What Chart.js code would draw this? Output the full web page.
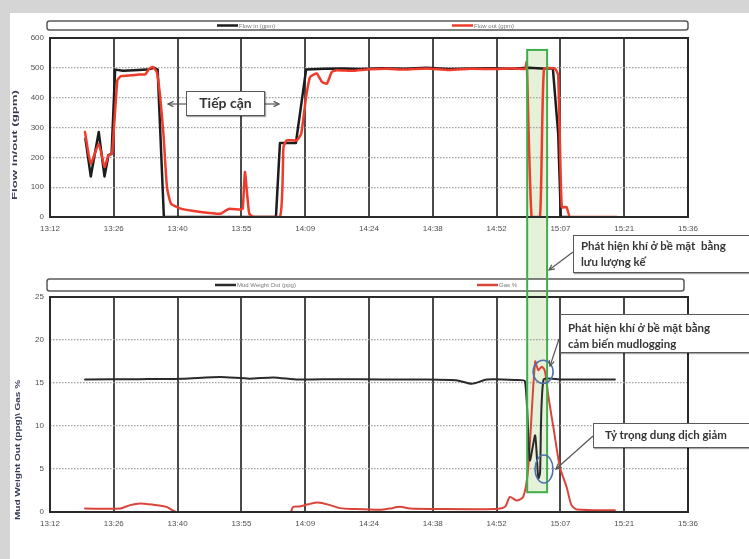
<!DOCTYPE html>
<html><head><meta charset="utf-8">
<script src="https://cdn.jsdelivr.net/npm/chart.js@4/dist/chart.umd.min.js"></script>
<style>
html,body{margin:0;padding:0;background:#fff;}
body{width:749px;height:559px;position:relative;overflow:hidden;font-family:"Liberation Sans",Arial,sans-serif;}
.frame{position:absolute;background:#d5d5d5;}
canvas{position:absolute;left:0;}
#under{top:0;z-index:1;}
#c1{top:0;z-index:2;}
#c2{top:240px;z-index:2;}
#over{top:0;z-index:3;pointer-events:none;}
.note{position:absolute;z-index:4;background:#fff;border:1.5px solid #5a5a5a;box-sizing:border-box;
  font-family:Lato,"Open Sans",sans-serif;font-weight:bold;color:#353535;white-space:pre;
  box-shadow:1px 1px 1px rgba(0,0,0,0.35);}
</style></head>
<body>
<div class="frame" style="left:0;top:0;width:10px;height:559px;"></div>
<div class="frame" style="left:0;top:0;width:749px;height:13px;"></div>
<canvas id="under" width="749" height="559"></canvas>
<canvas id="c1" width="749" height="240"></canvas>
<canvas id="c2" width="749" height="319"></canvas>
<canvas id="over" width="749" height="559"></canvas>

<div class="note" style="left:186px;top:91px;width:79px;height:25px;font-size:14px;line-height:22px;text-align:center;">Tiếp cận</div>
<div class="note" style="left:573px;top:235px;width:200px;height:38px;font-size:11.5px;line-height:16px;padding:2px 0 0 7px;">Phát hiện khí ở bề mặt  bằng
lưu lượng kế</div>
<div class="note" style="left:560px;top:314px;width:210px;height:39px;font-size:11.5px;line-height:16px;padding:5px 0 0 7px;">Phát hiện khí ở bề mặt bằng
cảm biến mudlogging</div>
<div class="note" style="left:593px;top:423px;width:180px;height:25px;font-size:11.5px;line-height:21px;padding:0 0 0 11px;">Tỷ trọng dung dịch giảm</div>

<script>
// ---- tick labels (x axis: minutes after 13:12, one label every 14.4 min) ----
const timeLabels = ['13:12','13:26','13:40','13:55','14:09','14:24','14:38','14:52','15:07','15:21','15:36'];
const TIME_STEP = 14.4;
const flowTicks = [0,100,200,300,400,500,600];
const lowerTicks = [0,5,10,15,20,25];

// ---- upper chart: Flow in / Flow out (gpm) ----
const flowInTime = [8.0, 9.2, 11.0, 12.3, 13.2, 13.9, 14.7, 16.5, 19, 22, 23.5, 24.3, 25.7, 51.0, 51.9, 55.5, 57.8, 62, 66, 70, 75, 80, 85, 90, 95, 100, 104, 108, 111, 113.5, 114.7, 115.3, 117.2];
const flowIn     = [262, 136, 285, 136, 207, 212, 494, 490, 492, 494, 500, 494, 0, 0, 248, 248, 494, 497, 498, 496, 499, 497, 500, 496, 498, 499, 497, 500, 498, 498, 279, 0, 0];

const flowOutTime = [7.9, 9.2, 11.0, 12.3, 13.2, 14.0, 15.2, 16.0, 18.5, 20, 21.5, 22.4, 23.2, 24.1, 24.8, 25.6, 26.4, 27.3, 29.5, 34, 38.5, 39.5, 40.5, 42.9, 43.5, 44.0, 44.6, 45.0, 46, 51.9, 52.7, 53.4, 55.7, 56.7, 57.8, 58.7, 60.2, 61.4, 62.5, 63.6, 64.7, 68, 72, 76, 80, 85, 90, 95, 100, 104, 107.2, 107.6, 108.7, 110.6, 111.5, 114.0, 114.7, 115.5, 116.6, 117.4, 127.9];
const flowOut     = [285, 179, 246, 168, 207, 212, 458, 472, 475, 478, 478, 497, 503, 486, 413, 279, 100, 45, 28, 17, 11, 20, 28, 25, 28, 151, 60, 10, 0, 0, 235, 257, 257, 279, 402, 469, 481, 453, 447, 486, 492, 490, 495, 497, 494, 498, 493, 497, 496, 498, 497, 520, 0, 0, 497, 497, 475, 33, 33, 0, 0];

// ---- lower chart: Mud Weight Out (ppg) / Gas % ----
const mudTime   = [7.9, 20, 30, 38.4, 45, 50.4, 56, 65, 75, 85, 92, 95.2, 98.6, 105, 107.2, 108.3, 109.5, 110.2, 110.6, 111.4, 115, 127.5];
const mudWeight = [15.4, 15.45, 15.5, 15.7, 15.5, 15.65, 15.4, 15.45, 15.4, 15.4, 15.3, 14.9, 15.4, 15.35, 15.2, 6.0, 8.9, 3.9, 4.5, 15.4, 15.4, 15.4];

const gasTime = [7.9, 15.8, 18.1, 20.3, 23.3, 26.3, 28.6, 54.2, 54.9, 56.4, 58.3, 60.5, 63.2, 65.5, 68.4, 74.5, 76.7, 79, 81.3, 86.2, 100.5, 102.7, 103.8, 105.3, 106.8, 107.9, 109.5, 110.2, 111.0, 111.7, 112.5, 113.6, 115.1, 116.6, 117.7, 118.9, 127.5];
const gasPct  = [0.4, 0.4, 0.8, 1.0, 0.85, 0.6, 0, 0, 0.6, 0.65, 0.9, 1.1, 0.8, 0.45, 0.35, 0.25, 0.4, 0.6, 0.4, 0.35, 0.35, 0.6, 1.75, 1.35, 1.75, 4.9, 17.5, 16.5, 16.9, 16.4, 13.4, 9.9, 5.2, 2.9, 0.8, 0.3, 0.2];

function pts(t, v){ return t.map((x,i)=>({x:x, y:v[i]})); }

const deco = {
  id:'deco',
  afterDraw(chart, args, o){
    const ctx = chart.ctx, a = chart.chartArea;
    ctx.save();
    ctx.strokeStyle = '#2a2a2a'; ctx.lineWidth = 2;
    ctx.strokeRect(a.left, a.top, a.right-a.left, a.bottom-a.top);
    // legend frame
    const bx = a.left + o.boxL, by = a.top - o.boxTop, bw = a.right - a.left + o.boxWExtra, bh = o.boxH;
    ctx.beginPath();
    ctx.roundRect(bx, by, bw, bh, 2.5);
    ctx.fillStyle = '#fff'; ctx.fill();
    ctx.strokeStyle = '#5a5a5a'; ctx.lineWidth = 1.5; ctx.stroke();
    chart.data.datasets.forEach((ds, i) => {
      const x = a.left + o.itemX[i], y = by + bh/2;
      ctx.beginPath(); ctx.moveTo(x, y); ctx.lineTo(x+21, y);
      ctx.strokeStyle = ds.borderColor; ctx.lineWidth = 2.5; ctx.stroke();
      ctx.fillStyle = '#777'; ctx.font = '6px "Liberation Sans"'; ctx.textBaseline = 'middle'; ctx.textAlign='left';
      ctx.fillText(ds.label, x+22, y+0.5);
    });
    // y axis title
    ctx.translate(o.titleX, o.titleY); ctx.rotate(-Math.PI/2);
    ctx.font = 'bold 7px "Liberation Sans"';
    const w = ctx.measureText(o.title).width;
    ctx.scale(o.titleLen / w, 1);
    ctx.textAlign = 'center'; ctx.textBaseline = 'middle'; ctx.fillStyle = '#3a3c55';
    ctx.fillText(o.title, 0, 0);
    ctx.restore();
  }
};

function makeOptions(cfg){
  return {
    responsive:false, animation:false, events:[],
    layout:{padding:{top:cfg.padTop, right:61, bottom:cfg.padBottom, left:0}},
    elements:{point:{radius:0}, line:{borderJoinStyle:'round', borderCapStyle:'round'}},
    plugins:{legend:{display:false}, tooltip:{enabled:false}, deco:cfg.deco},
    scales:{
      x:{type:'linear', min:0, max:(timeLabels.length-1)*TIME_STEP,
        afterBuildTicks:(s)=>{ s.ticks = timeLabels.map((_,i)=>({value:i*TIME_STEP})); },
        afterFit:(s)=>{ s.height = 23; },
        ticks:{callback:(v,i)=>timeLabels[i], font:{size:8, family:'"Liberation Sans"'}, color:'#505050', padding:7, maxRotation:0, autoSkip:false},
        grid:{color:'#4a4a4a', lineWidth:2, drawTicks:false},
        border:{display:false}
      },
      y:{min:cfg.ticks[0], max:cfg.ticks[cfg.ticks.length-1],
        afterBuildTicks:(s)=>{ s.ticks = cfg.ticks.map(v=>({value:v})); },
        afterFit:(s)=>{ s.width = 50; },
        ticks:{font:{size:8, family:'"Liberation Sans"'}, color:'#505050', padding:6},
        grid:{color:'#a0a0a0', lineWidth:1.3, drawTicks:false},
        border:{display:false, dash:[1.5,1.5]}
      }
    }
  };
}

const chart1 = new Chart(document.getElementById('c1'), {
  type:'line',
  data:{datasets:[
    {label:'Flow in (gpm)', data:pts(flowInTime, flowIn), borderColor:'#1c1c1c', borderWidth:2.5, order:1, tension:0},
    {label:'Flow out (gpm)', data:pts(flowOutTime, flowOut), borderColor:'#ee3b2b', borderWidth:2.5, order:0, tension:0.15}
  ]},
  options:makeOptions({padTop:38, padBottom:0, ticks:flowTicks,
    deco:{boxL:-3, boxTop:17, boxH:9, boxWExtra:3, itemX:[167,402], title:'Flow in/out (gpm)', titleX:15.5, titleY:145, titleLen:110}}),
  plugins:[deco]
});

const chart2 = new Chart(document.getElementById('c2'), {
  type:'line',
  data:{datasets:[
    {label:'Mud Weight Out (ppg)', data:pts(mudTime, mudWeight), borderColor:'#2a2a2a', borderWidth:2, order:0, tension:0.2},
    {label:'Gas %', data:pts(gasTime, gasPct), borderColor:'#d9453b', borderWidth:2, order:1, tension:0.25}
  ]},
  options:makeOptions({padTop:57, padBottom:24, ticks:lowerTicks,
    deco:{boxL:-3, boxTop:18, boxH:12, boxWExtra:-1, itemX:[165,427], title:'Mud Weight Out (ppg)\\ Gas %', titleX:18, titleY:210, titleLen:140}}),
  plugins:[deco]
});

// ---- annotations anchored to the scales ----
const C2_TOP = 240;
const band = {t0:107.7, t1:112.2, topFlow:560, bottomPct:2.3};
const rings = [{t:111.3, v:16.3, rx:10, ry:11.5}, {t:111.5, v:5.0, rx:9, ry:14}];

const x1s = chart1.scales.x, y1s = chart1.scales.y, x2s = chart2.scales.x, y2s = chart2.scales.y;
const bx0 = x1s.getPixelForValue(band.t0), bx1 = x1s.getPixelForValue(band.t1);
const by0 = y1s.getPixelForValue(band.topFlow), by1 = C2_TOP + y2s.getPixelForValue(band.bottomPct);

const u = document.getElementById('under').getContext('2d');
u.fillStyle = 'rgba(222,236,205,0.75)';
u.fillRect(bx0, by0, bx1-bx0, by1-by0);

const g = document.getElementById('over').getContext('2d');
g.strokeStyle = '#3fae49'; g.lineWidth = 2;
g.strokeRect(bx0, by0, bx1-bx0, by1-by0);

g.strokeStyle = '#4d72a8'; g.lineWidth = 1.6;
rings.forEach(r => {
  g.beginPath();
  g.ellipse(x2s.getPixelForValue(r.t), C2_TOP + y2s.getPixelForValue(r.v), r.rx, r.ry, 0, 0, Math.PI*2);
  g.stroke();
});

function arrow(x1,y1,x2,y2){
  g.save();
  g.strokeStyle = '#555'; g.lineWidth = 1.2;
  g.beginPath(); g.moveTo(x1,y1); g.lineTo(x2,y2); g.stroke();
  const ang = Math.atan2(y2-y1, x2-x1), L = 6;
  g.beginPath();
  g.moveTo(x2 - L*Math.cos(ang-0.45), y2 - L*Math.sin(ang-0.45));
  g.lineTo(x2, y2);
  g.lineTo(x2 - L*Math.cos(ang+0.45), y2 - L*Math.sin(ang+0.45));
  g.stroke();
  g.restore();
}
arrow(186,104,168,104);
arrow(265,104,279,104);
arrow(573,252,549,270);
arrow(559,339,550,366);
arrow(593,436,556,469);
</script>
</body></html>
